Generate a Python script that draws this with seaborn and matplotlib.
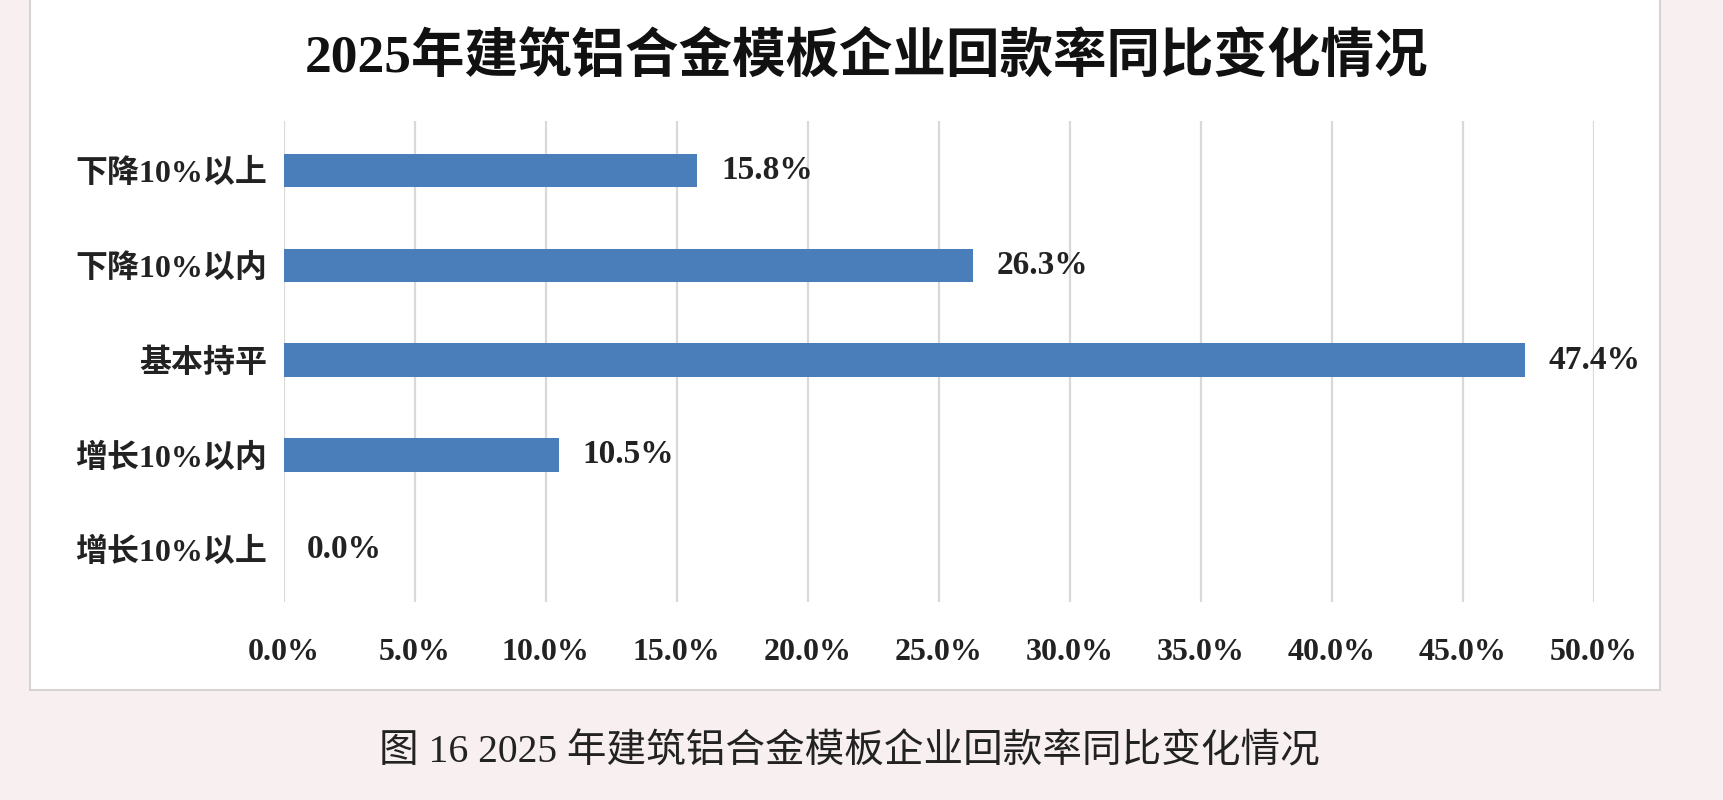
import matplotlib
matplotlib.use("Agg")
import matplotlib.pyplot as plt
import seaborn as sns
from matplotlib.patches import Rectangle
from matplotlib.ticker import MultipleLocator, FuncFormatter

# Dati
categories = ["下降10%以上", "下降10%以内", "基本持平", "增长10%以内", "增长10%以上"]
values = [15.8, 26.3, 47.4, 10.5, 0.0]
title = "2025年建筑铝合金模板企业回款率同比变化情况"
caption = "图 16 2025 年建筑铝合金模板企业回款率同比变化情况"

sns.set_theme(style="white")
plt.rcParams["font.family"] = ["Liberation Serif", "Noto Sans CJK SC"]

bar_color = "#4a7ebb"
bg_color = "#f8eff0"

fig = plt.figure(figsize=(17.23, 8), dpi=100)
fig.patch.set_facecolor(bg_color)

# riquadro bianco del grafico
fig.patches.append(Rectangle((30 / 1723, 1 - 690 / 800), 1630 / 1723, 690 / 800 + 0.01,
                             transform=fig.transFigure, facecolor="white",
                             edgecolor="#d4d4d4", linewidth=1.5, zorder=-1))

ax = fig.add_axes([283.5 / 1723, 1 - 602 / 800, 1310 / 1723, 481 / 800])
ax.set_zorder(2)
ax.set_facecolor("none")

sns.barplot(x=values, y=categories, orient="h", color=bar_color, saturation=1,
            width=0.35, linewidth=0, ax=ax, zorder=3)

ax.set_xlim(0, 50)
ax.set_ylim(4.55, -0.52)
ax.xaxis.set_major_locator(MultipleLocator(5))
ax.xaxis.set_major_formatter(FuncFormatter(lambda v, p: f"{v:.1f}%"))
ax.grid(True, axis="x", color="#d9d9d9", linewidth=1.6, zorder=0)
ax.grid(False, axis="y")
for s in ax.spines.values():
    s.set_visible(False)
ax.tick_params(axis="both", length=0)
ax.tick_params(axis="x", pad=26)
ax.tick_params(axis="y", pad=12)
ax.set_xlabel("")
ax.set_ylabel("")
for lbl in ax.get_xticklabels():
    lbl.set_fontsize(23)
    lbl.set_fontweight("bold")
    lbl.set_color("#222222")
for lbl in ax.get_yticklabels():
    lbl.set_fontsize(23)
    lbl.set_fontweight("bold")
    lbl.set_color("#222222")

# etichette valori
for i, v in enumerate(values):
    ax.text(v + 0.9, i, f"{v:.1f}%", va="center", ha="left",
            fontsize=24, fontweight="bold", color="#222222")

fig.text(0.503, 1 - 57 / 800, title, ha="center", va="center",
         fontsize=38.5, fontweight="bold", color="#111111")
fig.text(0.493, 1 - 753 / 800, caption, ha="center", va="center",
         fontsize=28.5, color="#222222")

fig.savefig("out.png", dpi=100, facecolor=fig.get_facecolor())
